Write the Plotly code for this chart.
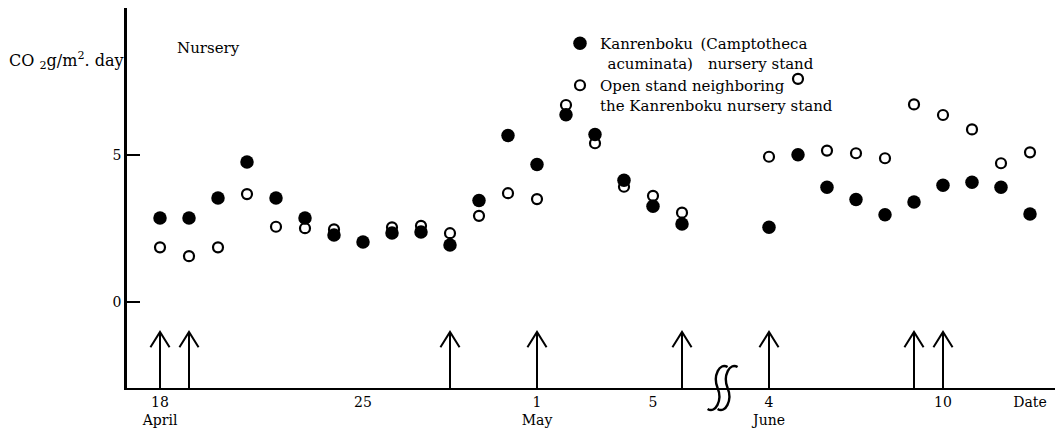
import plotly.graph_objects as go

# ---------------- data ----------------
# day slots (0 = 18 April ... 18 = 6 May, axis break, 21 = 4 June ... 30 = 13 June)
day_index = list(range(0, 19)) + list(range(21, 31))
kanrenboku = [2.86, 2.86, 3.54, 4.76, 3.54, 2.86, 2.28, 2.04, 2.35, 2.38, 1.94, 3.45,
              5.66, 4.68, 6.37, 5.70, 4.14, 3.26, 2.65,
              2.54, 5.01, 3.90, 3.49, 2.97, 3.40, 3.97, 4.07, 3.90, 2.99]
open_stand = [1.86, 1.56, 1.86, 3.67, 2.56, 2.51, 2.47, None, 2.54, 2.59, 2.34, 2.93,
              3.70, 3.50, 6.70, 5.40, 3.92, 3.61, 3.04,
              4.94, 7.59, 5.15, 5.06, 4.89, 6.72, 6.36, 5.87, 4.72, 5.09]
arrow_days = [0, 1, 10, 13, 18, 21, 26, 27]
tick_vals = [0, 7, 13, 17, 21, 27, 30]
tick_text = ["18<br>April", "25", "1<br>May", "5", "4<br>June", "10", "Date"]
y_ticks = [0, 5]
break_at = 19.4

name_k = "Kanrenboku\u2002(Camptotheca<br>\u2002acuminata)\u2002\u2002nursery stand"
name_o = "Open stand neighboring<br>the Kanrenboku nursery stand"

# ---------------- layout constants ----------------
# the page body adds an 8px offset, so the figure is 8px smaller than the window
W, H = 1055, 424
ML, MR, MT, MB = 119, 0, 0, 44
PW, PH = W - ML - MR, H - MT - MB
x_range = [-1.138, -1.138 + PW / 29.0]
y_range = [-2.925, 10.0]
FONT = "DejaVu Serif"

fig = go.Figure()

fig.add_trace(go.Scatter(
    x=day_index, y=open_stand, mode="markers", name=name_o,
    marker=dict(symbol="circle", size=10, color="white",
                line=dict(color="black", width=2.2)),
    cliponaxis=False))
fig.add_trace(go.Scatter(
    x=day_index, y=kanrenboku, mode="markers", name=name_k,
    marker=dict(symbol="circle", size=13.5, color="black",
                line=dict(color="black", width=0)),
    cliponaxis=False))

shapes = []
# arrows
tip = -1.02
for d in arrow_days:
    shapes.append(dict(type="line", xref="x", yref="y", x0=d, x1=d,
                       y0=y_range[0], y1=tip, line=dict(color="black", width=2)))
    shapes.append(dict(type="path", xref="x", yref="y",
                       path=f"M {d-0.33},{tip-0.52} L {d},{tip} L {d+0.33},{tip-0.52}",
                       line=dict(color="black", width=2)))

# axis-break symbol (two integral-like strokes), drawn in paper coords
def P(cx, dx, dy):
    xp = (cx - x_range[0]) / (x_range[1] - x_range[0]) + dx / PW
    yp = -dy / PH
    return f"{xp:.5f},{yp:.5f}"

for off in (-5, 5):
    path = ("M " + P(break_at, off + 10, -21) +
            " C " + P(break_at, off + 2, -26) + " " + P(break_at, off - 5, -12) + " " + P(break_at, off, 0) +
            " C " + P(break_at, off + 5, 12) + " " + P(break_at, off - 2, 26) + " " + P(break_at, off - 10, 21))
    shapes.append(dict(type="path", xref="paper", yref="paper", path=path,
                       line=dict(color="black", width=2.4)))

annotations = [
    dict(text="Nursery", x=0.52, y=8.64, xref="x", yref="y", xanchor="left",
         yanchor="middle", showarrow=False, font=dict(family=FONT, size=15, color="black")),
    dict(text="CO <sub>2</sub>g/m<sup>2</sup>. day", x=0, y=8.23, xref="paper", yref="y",
         xanchor="right", yanchor="middle", xshift=-1, showarrow=False,
         font=dict(family=FONT, size=16, color="black")),
]

fig.update_layout(
    width=W, height=H,
    margin=dict(l=ML, r=MR, t=MT, b=MB, pad=0, autoexpand=False),
    paper_bgcolor="white", plot_bgcolor="white",
    font=dict(family=FONT, size=14, color="black"),
    showlegend=True,
    legend=dict(x=(560 - 8 - ML) / PW, y=(H - MB - 19) / PH, xanchor="left", yanchor="top",
                traceorder="reversed", valign="top", bgcolor="rgba(0,0,0,0)",
                font=dict(family=FONT, size=15, color="black"),
                itemwidth=30, tracegroupgap=0),
    shapes=shapes,
    annotations=annotations,
    xaxis=dict(range=x_range, showgrid=False, zeroline=False, showline=True,
               linecolor="black", linewidth=2, ticks="", tickmode="array",
               tickvals=tick_vals, ticktext=tick_text, automargin=False,
               tickfont=dict(family=FONT, size=14, color="black")),
    yaxis=dict(range=y_range, showgrid=False, zeroline=False, showline=True,
               linecolor="black", linewidth=2.5, ticks="inside", ticklen=13,
               tickwidth=2, tickcolor="black", tickmode="array", tickvals=y_ticks,
               ticktext=[str(v) for v in y_ticks], automargin=False,
               tickfont=dict(family=FONT, size=14, color="black")),
)

fig.write_html("out.html")
